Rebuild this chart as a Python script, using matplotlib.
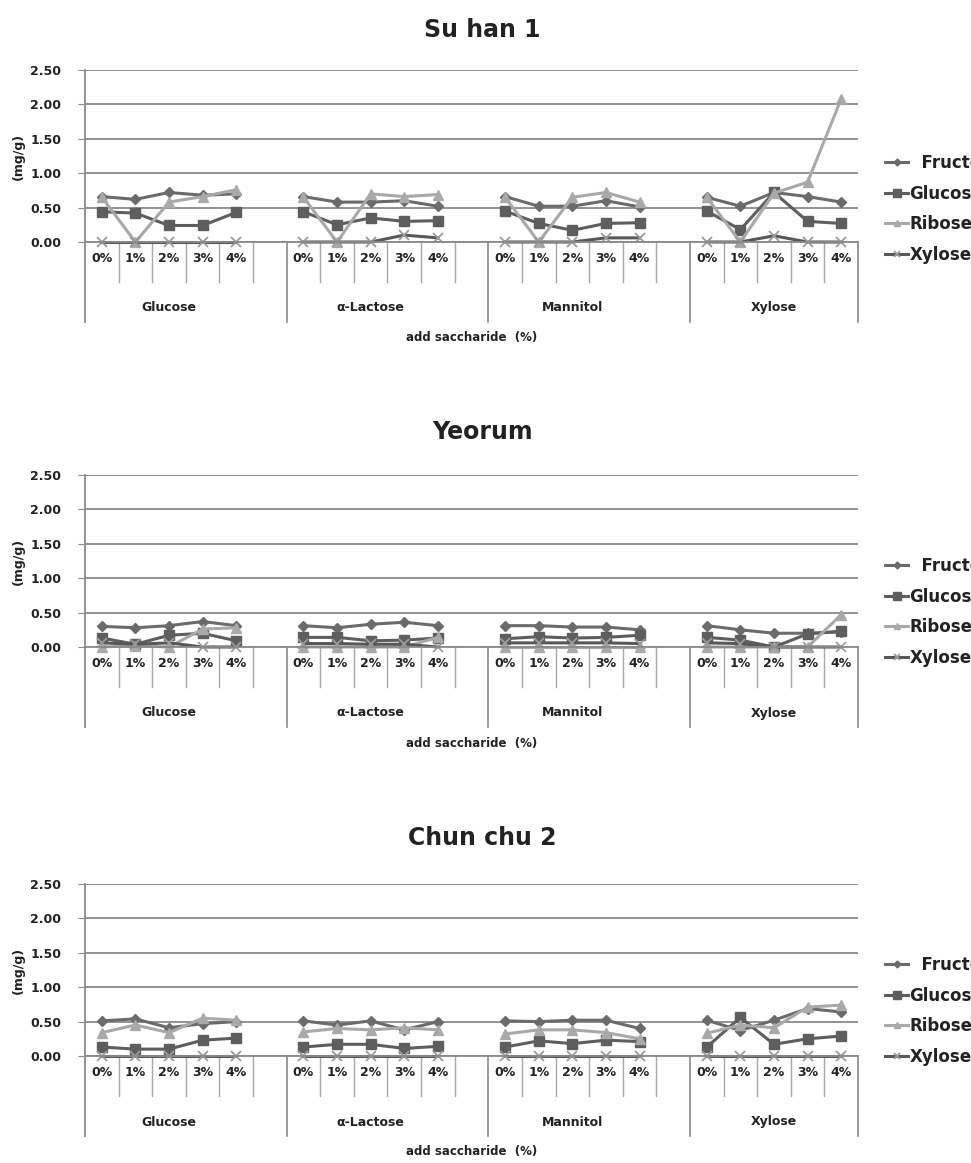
"""
Free sugar content (mg/g) of three cultivars by added saccharide and level.
Writes out.png.
"""

import matplotlib
matplotlib.use("Agg")
import matplotlib.pyplot as plt
import matplotlib.transforms as mtransforms
from matplotlib.lines import Line2D

W, H, DPI = 971, 1163, 100
plt.rcParams.update({"font.family": "DejaVu Sans", "font.weight": "bold",
                     "font.size": 9})

GROUPS = ["Glucose", "\u03b1-Lactose", "Mannitol", "Xylose"]
LEVELS = ["0%", "1%", "2%", "3%", "4%"]
SERIES = ["Fructose", "Glucose", "Ribose", "Xylose"]
CULTIVARS = ["Su han 1", "Yeorum", "Chun chu 2"]

# values per cultivar, 4 groups x 5 levels (Glucose, a-Lactose, Mannitol, Xylose)
SUHAN_FRU = [0.66, 0.62, 0.72, 0.68, 0.70, 0.66, 0.58, 0.58, 0.60, 0.52,
             0.66, 0.52, 0.52, 0.60, 0.51, 0.65, 0.52, 0.72, 0.66, 0.58]
SUHAN_GLC = [0.44, 0.42, 0.24, 0.24, 0.43, 0.44, 0.25, 0.35, 0.30, 0.31,
             0.45, 0.27, 0.17, 0.27, 0.28, 0.45, 0.18, 0.72, 0.30, 0.27]
SUHAN_RIB = [0.65, 0.00, 0.58, 0.66, 0.76, 0.65, 0.00, 0.70, 0.66, 0.69,
             0.65, 0.00, 0.65, 0.72, 0.58, 0.65, 0.00, 0.71, 0.87, 2.08]
SUHAN_XYL = [0.00, 0.00, 0.00, 0.00, 0.00, 0.00, 0.00, 0.00, 0.10, 0.06,
             0.00, 0.00, 0.00, 0.06, 0.06, 0.00, 0.00, 0.09, 0.00, 0.00]

YEORUM_FRU = [0.30, 0.28, 0.31, 0.37, 0.31, 0.31, 0.28, 0.33, 0.36, 0.31,
              0.31, 0.31, 0.29, 0.29, 0.25, 0.31, 0.25, 0.20, 0.20, 0.22]
YEORUM_GLC = [0.13, 0.04, 0.17, 0.20, 0.09, 0.14, 0.14, 0.09, 0.10, 0.13,
              0.12, 0.15, 0.13, 0.14, 0.17, 0.14, 0.10, 0.00, 0.19, 0.23]
YEORUM_RIB = [0.00, 0.02, 0.00, 0.26, 0.28, 0.00, 0.00, 0.00, 0.00, 0.14,
              0.00, 0.00, 0.00, 0.00, 0.00, 0.00, 0.00, 0.00, 0.00, 0.47]
YEORUM_XYL = [0.06, 0.04, 0.06, 0.00, 0.00, 0.05, 0.05, 0.04, 0.04, 0.00,
              0.06, 0.06, 0.06, 0.06, 0.05, 0.06, 0.05, 0.00, 0.00, 0.00]

CHUNCHU_FRU = [0.51, 0.54, 0.41, 0.47, 0.50, 0.51, 0.45, 0.51, 0.38, 0.50,
               0.51, 0.50, 0.52, 0.52, 0.40, 0.52, 0.37, 0.52, 0.69, 0.64]
CHUNCHU_GLC = [0.13, 0.10, 0.10, 0.23, 0.26, 0.13, 0.17, 0.17, 0.11, 0.14,
               0.13, 0.22, 0.18, 0.23, 0.21, 0.13, 0.56, 0.17, 0.25, 0.29]
CHUNCHU_RIB = [0.34, 0.45, 0.34, 0.55, 0.52, 0.35, 0.40, 0.38, 0.41, 0.38,
               0.32, 0.38, 0.38, 0.34, 0.25, 0.33, 0.45, 0.41, 0.71, 0.74]
CHUNCHU_XYL = [0.00] * 20

DATA = [
    [SUHAN_FRU, SUHAN_GLC, SUHAN_RIB, SUHAN_XYL],
    [YEORUM_FRU, YEORUM_GLC, YEORUM_RIB, YEORUM_XYL],
    [CHUNCHU_FRU, CHUNCHU_GLC, CHUNCHU_RIB, CHUNCHU_XYL],
]

STYLE = {
    "Fructose": dict(color="#6b6b6b", marker="D", ms=5, mfc="#6b6b6b", mec="#6b6b6b"),
    "Glucose": dict(color="#5e5e5e", marker="s", ms=7.5, mfc="#5e5e5e", mec="#5e5e5e"),
    "Ribose": dict(color="#a9a9a9", marker="^", ms=6.5, mfc="#a9a9a9", mec="#a9a9a9"),
    "Xylose": dict(color="#585858", marker="x", ms=7, mfc="#9c9c9c", mec="#9c9c9c",
                   mew=1.3),
}
LEG_LABELS = ["  Fructose", "Glucose", "Ribose", "Xylose"]

# pixel layout (image coords, y downwards)
LEFT, RIGHT = 85, 858
ZERO_Y = [242, 647, 1056]
TITLE_Y = [30, 432, 838]
LEGEND_Y = [209, 612, 1011]
AX_H = 172
GRID = "#8a8a8a"
SEP = "#a8a8a8"


def slot_x(g, k):
    return 6 * g + k + 0.5


def draw_panel(fig, p):
    ax = fig.add_axes([LEFT / W, 1 - ZERO_Y[p] / H, (RIGHT - LEFT) / W, AX_H / H])
    ax.set_xlim(0, 23)
    ax.set_ylim(0, 2.5)
    ax.set_yticks([0, 0.5, 1.0, 1.5, 2.0, 2.5])
    ax.set_yticklabels([f"{v:.2f}" for v in ax.get_yticks()])
    ax.tick_params(axis="y", length=5, color=GRID, pad=12, labelsize=9,
                   labelcolor="#222222")
    ax.set_xticks([slot_x(g, k) for g in range(4) for k in range(5)])
    ax.set_xticklabels(LEVELS * 4)
    ax.tick_params(axis="x", length=0, pad=7, labelsize=9, labelcolor="#222222")
    for s in ["top", "right", "left"]:
        ax.spines[s].set_visible(False)
    ax.spines["bottom"].set_color(GRID)
    ax.spines["bottom"].set_linewidth(1.3)
    ax.yaxis.grid(True, color=GRID, lw=1.3)
    ax.set_axisbelow(True)

    trans = mtransforms.blended_transform_factory(ax.transData, ax.transAxes)
    short, deep = -40 / AX_H, -80 / AX_H
    ax.plot([0, 0], [1, deep], transform=trans, color=GRID, lw=1.3, clip_on=False)
    for b in range(1, 24):
        if b in (6, 12, 18, 23):
            ax.plot([b, b], [0, deep], transform=trans, color=GRID, lw=1.2,
                    clip_on=False)
        else:
            ax.plot([b, b], [0, short], transform=trans, color=SEP, lw=1.0,
                    clip_on=False)
    for g, name in enumerate(GROUPS):
        ax.text(6 * g + 2.5, -66 / AX_H, name, transform=trans, ha="center",
                va="center", fontsize=9, color="#222222")
    ax.text(11.5, -96 / AX_H, "add saccharide  (%)", transform=trans,
            ha="center", va="center", fontsize=8.5, color="#222222")

    for name, vals in zip(SERIES, DATA[p]):
        st = STYLE[name]
        for g in range(4):
            xs = [slot_x(g, k) for k in range(5)]
            ax.plot(xs, vals[5 * g:5 * g + 5], lw=2.2, clip_on=False, **st)

    handles = [Line2D([], [], lw=2.2, **STYLE[n]) for n in SERIES]
    ax.legend(handles, LEG_LABELS, loc="center left",
              bbox_to_anchor=(877 / W, 1 - LEGEND_Y[p] / H),
              bbox_transform=fig.transFigure, frameon=False, handlelength=1.35,
              handletextpad=0.1, labelspacing=0.75, borderpad=0, markerscale=0.7,
              prop={"size": 12, "weight": "bold"}, labelcolor="#222222")

    fig.text(482 / W, 1 - TITLE_Y[p] / H, CULTIVARS[p], ha="center", va="center",
             fontsize=17, weight="bold", color="#222222")
    fig.text(18 / W, 1 - (ZERO_Y[p] - AX_H / 2) / H, "(mg/g)", rotation=90,
             ha="center", va="center", fontsize=9, color="#222222")


def main():
    fig = plt.figure(figsize=(W / DPI, H / DPI), dpi=DPI)
    for p in range(3):
        draw_panel(fig, p)
    fig.savefig("out.png", dpi=DPI)


if __name__ == "__main__":
    main()
